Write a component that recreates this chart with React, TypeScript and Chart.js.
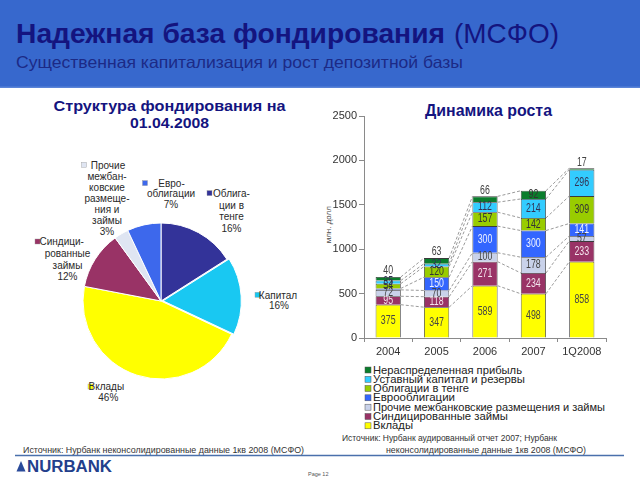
import React, { useEffect, useRef } from "react";
import { Chart, registerables } from "chart.js";

Chart.register(...registerables);

// ---------- data ----------
const years = ["2004", "2005", "2006", "2007", "1Q2008"];
const deposits = [375, 347, 589, 498, 858];
const syndicatedLoans = [95, 118, 271, 234, 233];
const interbank = [72, 70, 100, 178, 57];
const eurobonds = [16, 150, 300, 300, 141];
const tengeBonds = [54, 120, 157, 142, 309];
const capitalReserves = [35, 32, 112, 214, 296];
const retainedEarnings = [40, 63, 66, 92, 17];
const yTicks = [0, 500, 1000, 1500, 2000, 2500];

const seriesNames = [
  "Вклады",
  "Синдицированные займы",
  "Прочие межбанковские размещения и займы",
  "Еврооблигации",
  "Облигации в тенге",
  "Уставный капитал и резервы",
  "Нераспределенная прибыль",
];

const pieCategories = [
  "Облигации в тенге",
  "Капитал",
  "Вклады",
  "Синдицированные займы",
  "Прочие межбанковские размещения и займы",
  "Еврооблигации",
];
const pieShares = [16, 16, 46, 12, 3, 7];
const pieLabelLines = [
  ["Облига-", "ции в", "тенге"],
  ["Капитал"],
  ["Вклады"],
  ["Синдици-", "рованные", "займы"],
  ["Прочие", "межбан-", "ковские", "размеще-", "ния и", "займы"],
  ["Евро-", "облигации"],
];

// ---------- styles ----------
const FONT = "'Liberation Sans', Arial, Helvetica, sans-serif";
const NAVY = "#14147f";
const barColors = ["#ffff00", "#993366", "#c9d2ea", "#3366ff", "#99cc00", "#33ccff", "#0a7d2c"];
const barLabelColors = ["#444", "#f3e4ec", "#444", "#eef2ff", "#333", "#335", "#333"];
const pieColors = ["#333399", "#19c8f2", "#ffff00", "#993366", "#dfe5f2", "#3d68ec"];
const pieOffsets = [0, 8, 0, 0, 0, 0];

// label layout for pie: center x of lines, center x of first line, first line center y, step, square x
const pieLabelLayout = [
  { x: 231.5, fx: 231.5, y: 193.3, step: 11.7, sq: 207 },
  { x: 279, fx: 278, y: 295, step: 10.7, sq: 255 },
  { x: 108.3, fx: 106.3, y: 386.7, step: 10.6, sq: 88 },
  { x: 67.5, fx: 61.7, y: 241.7, step: 11.7, sq: 35 },
  { x: 107, fx: 108, y: 165, step: 11, sq: 81.5 },
  { x: 171, fx: 171.5, y: 183.3, step: 10.4, sq: 142.5 },
];

const legendRows = [
  { y: 370, w: 149 },
  { y: 379.3, w: 152 },
  { y: 388.5, w: 96 },
  { y: 397.8, w: 82 },
  { y: 407.2, w: 232 },
  { y: 416.5, w: 135 },
  { y: 425.8, w: 40 },
];

const barDecor = {
  id: "barDecor",
  afterDatasetsDraw(chart: any) {
    const ctx = chart.ctx;
    const n = chart.data.datasets.length;
    ctx.save();
    ctx.setLineDash([3, 2]);
    ctx.strokeStyle = "#6f6f6f";
    ctx.lineWidth = 0.7;
    for (let d = 0; d < n; d++) {
      const meta = chart.getDatasetMeta(d);
      for (let j = 0; j < meta.data.length - 1; j++) {
        const a: any = meta.data[j];
        const b: any = meta.data[j + 1];
        ctx.beginPath();
        ctx.moveTo(a.x + a.width / 2, a.y);
        ctx.lineTo(b.x - b.width / 2, b.y);
        ctx.stroke();
      }
    }
    ctx.restore();

    ctx.save();
    ctx.font = `11px ${FONT}`;
    ctx.textAlign = "center";
    ctx.textBaseline = "middle";
    for (let d = 0; d < n; d++) {
      const meta = chart.getDatasetMeta(d);
      const data = chart.data.datasets[d].data as number[];
      meta.data.forEach((el: any, j: number) => {
        const v = data[j];
        if (v < 20 && d !== n - 1) return;
        const h = el.base - el.y;
        let y = (el.base + el.y) / 2;
        let color = barLabelColors[d];
        if (d === n - 1 && h < 7) {
          y = el.y - 6;
          color = "#444";
        }
        ctx.fillStyle = color;
        ctx.save();
        ctx.translate(el.x, y);
        ctx.scale(0.8, 1.08);
        ctx.fillText(String(v), 0, 0);
        ctx.restore();
      });
    }
    ctx.restore();
  },
};

function BarChart() {
  const ref = useRef<HTMLCanvasElement>(null);
  useEffect(() => {
    const series = [deposits, syndicatedLoans, interbank, eurobonds, tengeBonds, capitalReserves, retainedEarnings];
    const chart = new Chart(ref.current as HTMLCanvasElement, {
      type: "bar",
      data: {
        labels: years,
        datasets: series.map((s, i) => ({
          label: seriesNames[i],
          data: s,
          backgroundColor: barColors[i],
          borderColor: "#3a3a3a",
          borderWidth: 0.8,
          barPercentage: 0.52,
          categoryPercentage: 1,
        })),
      },
      options: {
        responsive: false,
        animation: false,
        devicePixelRatio: 1,
        layout: { padding: { left: 0, right: 14, top: 10, bottom: 0 } },
        plugins: { legend: { display: false }, tooltip: { enabled: false } },
        scales: {
          x: {
            stacked: true,
            afterFit: (s: any) => {
              s.height = 24;
            },
            grid: { drawOnChartArea: false, tickLength: 4, color: "#8a8a8a" },
            border: { color: "#8a8a8a" },
            ticks: { font: { size: 11, family: FONT }, color: "#333", padding: 3 },
          },
          y: {
            stacked: true,
            min: 0,
            max: 2500,
            afterBuildTicks: (s: any) => {
              s.ticks = yTicks.map((v) => ({ value: v }));
            },
            afterFit: (s: any) => {
              s.width = 64;
            },
            grid: { drawOnChartArea: false, tickLength: 5, color: "#8a8a8a" },
            border: { color: "#8a8a8a" },
            ticks: {
              font: { size: 11, family: FONT },
              color: "#333",
              padding: 2,
              callback: (v: any) => String(v),
            },
          },
        },
      },
      plugins: [barDecor],
    });
    return () => chart.destroy();
  }, []);
  return (
    <canvas
      ref={ref}
      width={320}
      height={256}
      style={{ position: "absolute", left: 300, top: 106, width: 320, height: 256 }}
    />
  );
}

function PieChart() {
  const ref = useRef<HTMLCanvasElement>(null);
  useEffect(() => {
    const chart = new Chart(ref.current as HTMLCanvasElement, {
      type: "pie",
      data: {
        labels: pieCategories,
        datasets: [
          {
            data: pieShares,
            backgroundColor: pieColors,
            borderColor: "#ffffff",
            borderWidth: 1,
            offset: pieOffsets,
          },
        ],
      },
      options: {
        responsive: false,
        animation: false,
        devicePixelRatio: 1,
        radius: 78,
        rotation: 0,
        plugins: { legend: { display: false }, tooltip: { enabled: false } },
      } as any,
    });
    return () => chart.destroy();
  }, []);
  return (
    <canvas
      ref={ref}
      width={180}
      height={180}
      style={{ position: "absolute", left: 71, top: 211, width: 180, height: 180 }}
    />
  );
}

export default function App() {
  const legendOrder = [6, 5, 4, 3, 2, 1, 0];
  return (
    <div
      style={{
        position: "absolute",
        left: 0,
        top: 0,
        width: 640,
        height: 480,
        overflow: "hidden",
        background: "#ffffff",
        fontFamily: FONT,
      }}
    >
      <svg width={640} height={480} style={{ position: "absolute", left: 0, top: 0 }}>
        <rect x={0} y={0} width={640} height={88} fill="#3768cd" />
        <rect x={0} y={86.5} width={640} height={1.5} fill="#5a84d8" />
        <text x={16} y={43} fontSize={28} fontWeight="bold" fill={NAVY} fontFamily={FONT} textLength={429} lengthAdjust="spacingAndGlyphs">
          Надежная база фондирования
        </text>
        <text x={454} y={43} fontSize={28} fill={NAVY} fontFamily={FONT} textLength={105} lengthAdjust="spacingAndGlyphs">
          (МСФО)
        </text>
        <text x={16} y={67.5} fontSize={16.5} fill="#1c2a86" fontFamily={FONT} textLength={447} lengthAdjust="spacingAndGlyphs">
          Существенная капитализация и рост депозитной базы
        </text>

        <text x={53.5} y={111.3} fontSize={15.5} fontWeight="bold" fill={NAVY} fontFamily={FONT} textLength={232} lengthAdjust="spacingAndGlyphs">
          Структура фондирования  на
        </text>
        <text x={130} y={128} fontSize={15.5} fontWeight="bold" fill={NAVY} fontFamily={FONT} textLength={79} lengthAdjust="spacingAndGlyphs">
          01.04.2008
        </text>
        <text x={425} y={115.5} fontSize={16} fontWeight="bold" fill={NAVY} fontFamily={FONT} textLength={127} lengthAdjust="spacingAndGlyphs">
          Динамика роста
        </text>

        <text
          x={331}
          y={224.7}
          fontSize={8}
          fill="#444"
          fontFamily={FONT}
          textAnchor="middle"
          transform="rotate(-90 331 224.7)"
        >
          млн. долл
        </text>

        {pieLabelLayout.map((L, i) => {
          const lines = [...pieLabelLines[i], `${pieShares[i]}%`];
          return (
            <g key={i}>
              <rect x={L.sq} y={L.y - 2.7} width={5} height={5} fill={pieColors[i]} stroke="#9a9a9a" strokeWidth={0.4} />
              {lines.map((t, k) => (
                <text
                  key={k}
                  x={k === 0 ? L.fx : L.x}
                  y={L.y + k * L.step + 3.5}
                  fontSize={10}
                  fill="#2a2a2a"
                  fontFamily={FONT}
                  textAnchor="middle"
                >
                  {t}
                </text>
              ))}
            </g>
          );
        })}

        {legendOrder.map((si, r) => (
          <g key={si}>
            <rect
              x={365}
              y={legendRows[r].y - 3}
              width={6}
              height={6}
              fill={barColors[si]}
              stroke="#555"
              strokeWidth={0.5}
            />
            <text
              x={373}
              y={legendRows[r].y + 3.6}
              fontSize={10.5}
              fill="#222"
              fontFamily={FONT}
              textLength={legendRows[r].w}
              lengthAdjust="spacingAndGlyphs"
            >
              {seriesNames[si]}
            </text>
          </g>
        ))}

        <text x={342} y={441} fontSize={9} fill="#333" fontFamily={FONT} textLength={215} lengthAdjust="spacingAndGlyphs">
          Источник: Нурбанк аудированный отчет 2007; Нурбанк
        </text>
        <text x={386} y={452.5} fontSize={9} fill="#333" fontFamily={FONT} textLength={200} lengthAdjust="spacingAndGlyphs">
          неконсолидированные данные 1кв 2008 (МСФО)
        </text>
        <text x={23} y={452.5} fontSize={9.5} fill="#333" fontFamily={FONT} textLength={281} lengthAdjust="spacingAndGlyphs">
          Источник: Нурбанк неконсолидированные данные 1кв 2008 (МСФО)
        </text>
        <line x1={15} y1={455.6} x2={624} y2={455.6} stroke="#4a70ac" strokeWidth={1.5} />

        <polygon points="16.5,471.5 21,461 25.5,471.5" fill="#2a4a9a" />
        <text x={27} y={471.7} fontSize={16} fontWeight="bold" fill="#233f8c" fontFamily={FONT} textLength={85} lengthAdjust="spacingAndGlyphs">
          NURBANK
        </text>
        <text x={308} y={476} fontSize={5.5} fill="#555" fontFamily={FONT}>
          Page 12
        </text>
      </svg>
      <PieChart />
      <BarChart />
    </div>
  );
}
